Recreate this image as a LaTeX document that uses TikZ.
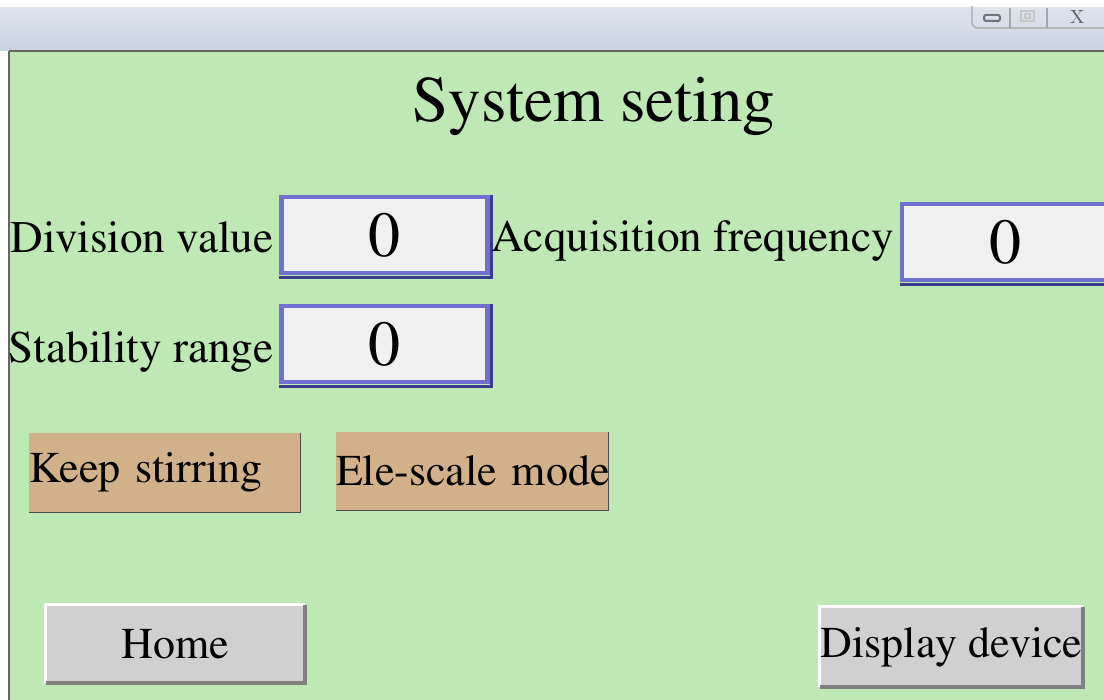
\documentclass[tikz,border=0pt]{standalone}
\usepackage[T1]{fontenc}
\renewcommand{\rmdefault}{ptm}
\usetikzlibrary{positioning}
\definecolor{panelgreen}{RGB}{190,232,180}
\definecolor{barlight}{RGB}{222,228,236}
\definecolor{bardark}{RGB}{200,210,222}
\definecolor{inputblue}{RGB}{112,112,208}
\definecolor{inputshade}{RGB}{60,60,140}
\definecolor{boxfill}{RGB}{240,240,240}
\definecolor{tanfill}{RGB}{210,176,138}
\definecolor{keygray}{RGB}{208,208,208}
\definecolor{keyshade}{RGB}{128,128,128}
\newcommand{\lblfont}{\fontsize{22}{26}\selectfont}

\begin{document}
\begin{tikzpicture}[x=0.5pt, y=-0.5pt,
    lbl/.style={inner sep=0pt, font=\fontsize{22.6}{26}\selectfont},
    inputbox/.style={draw=inputblue, line width=2.2pt, fill=boxfill, minimum width=103pt,
      minimum height=38pt, inner sep=0pt, font=\fontsize{32}{32}\selectfont},
    tankey/.style={fill=tanfill, inner sep=0pt, text width=#1, align=left, font=\lblfont},
    graykey/.style={fill=keygray, inner sep=0pt, minimum height=39pt, font=\lblfont}]
  \useasboundingbox (0,0) rectangle (1104,700);
  \fill[white] (0,0) rectangle (1104,700);
  % title bar of the window
  \shade[top color=barlight, bottom color=bardark] (0,8) rectangle (1104,51);
  \draw[gray!80!black, line width=1pt] (9,51) -- (1104,51);
  \fill[panelgreen] (9,52) rectangle (1104,700);
  \draw[gray!80!black, line width=1pt] (9,51) -- (9,700);
  % window buttons
  \draw[gray!70, line width=0.6pt, rounded corners=3pt] (972,6) -- (972,28) -- (1104,28);
  \draw[gray!70, line width=0.6pt] (1010,8) -- (1010,28) (1047,8) -- (1047,28);
  \draw[gray!90!black, line width=1pt, rounded corners=0.8pt] (984,15) rectangle (1000,21);
  \draw[gray!45, line width=0.8pt] (1021,11) rectangle (1034,21);
  \draw[gray!45, line width=0.6pt] (1025,14) rectangle (1030,18);
  \node[inner sep=0pt, text=gray!80!black, font=\sffamily\bfseries\fontsize{10}{10}\selectfont] (closebtn) at (1078,17) {X};

  % heading
  \node[lbl, anchor=base, font=\fontsize{32.5}{36}\selectfont] (heading) at (594,122) {System seting};

  % input fields
  \node[inputbox] (divbox) at (384.5,235) {0};
  \node[inputbox] (acqbox) at (1005,242) {0};
  \node[inputbox] (stabbox) at (384.5,344) {0};
  \foreach \b in {divbox,acqbox,stabbox} {
    \draw[inputshade, line width=1.5pt] ([xshift=1pt]\b.north east) -- ([xshift=1pt,yshift=-1pt]\b.south east)
      -- ([yshift=-1pt]\b.south west);
  }
  \node[lbl, anchor=base east] (divlabel) at (274,253) {Division value};
  \node[lbl, anchor=base east] (acqlabel) at (894,252) {Acquisition frequency};
  \node[lbl, anchor=base east] (stablabel) at (274,363) {Stability range};

  % tan mode keys
  \node[tankey=135.5pt, minimum height=39.5pt] (stirkey) at (164.5,472.5) {\mbox{Keep stirring}};
  \node[tankey=136pt, minimum height=39pt] (scalekey) at (472,471) {\mbox{Ele-scale mode}};
  \foreach \b in {stirkey,scalekey} {
    \draw[black!70, line width=0.6pt] (\b.north east) -- (\b.south east) -- (\b.south west);
  }

  % grey navigation keys
  \node[graykey, minimum width=129.5pt] (homekey) at (175.5,644) {Home};
  \node[graykey, minimum width=131.5pt, minimum height=40pt] (devkey) at (951.5,647) {Display device};
  \foreach \b in {homekey,devkey} {
    \draw[white, line width=1.5pt] (\b.south west) -- (\b.north west) -- (\b.north east);
    \draw[keyshade, line width=2pt] (\b.north east) -- (\b.south east) -- (\b.south west);
  }
\end{tikzpicture}
\end{document}
